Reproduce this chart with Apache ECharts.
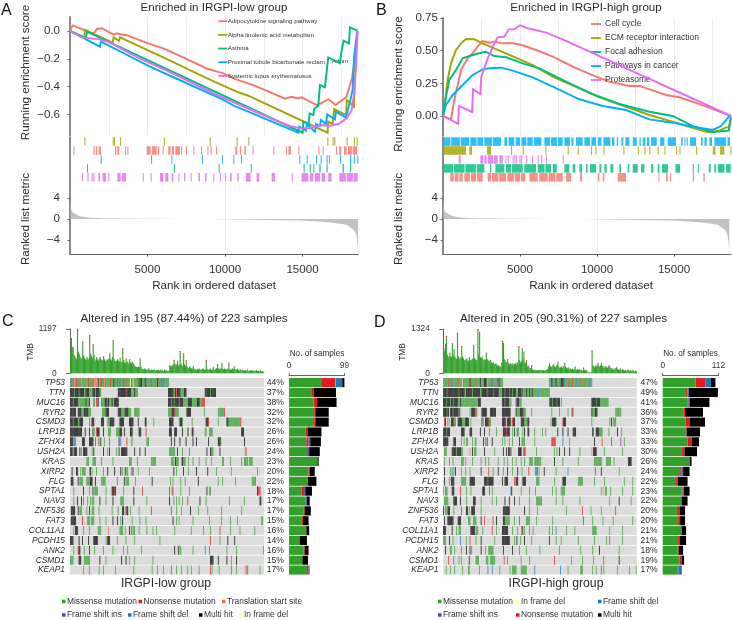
<!DOCTYPE html>
<html><head><meta charset="utf-8">
<style>html,body{margin:0;background:#fff}#c{width:732px;height:620px}#c canvas{filter:blur(0.35px)}</style>
<script src="https://cdn.jsdelivr.net/npm/echarts@6/dist/echarts.min.js"></script>
</head><body><div id="c"></div>
<script>
const FONT='"Liberation Sans",Arial,sans-serif';
const gseaColors=['#F8766D','#A3A500','#00BF7D','#00B0F6','#E76BF3'];
const lowSets=['Adipocytokine signaling pathway','Alpha linolenic acid metabolism','Asthma','Proximal tubule bicarbonate reclam','Systemic lupus erythematosus'];
const highSets=['Cell cycle','ECM receptor interaction','Focal adhesion','Pathways in cancer','Proteasome'];

const lowCurveRed=[[0,0],[172,.04],[1505,-.02],[1610,-.015],[1740,.015],[2040,.02],[2795,-.025],[3050,-.017],[3270,-.024],[3655,-.03],[4945,-.085],[6020,-.125],[7200,-.185],[8815,-.27],[9890,-.305],[10750,-.35],[11825,-.39],[13010,-.445],[13870,-.487],[14300,-.473],[14685,-.485],[14940,-.478],[15910,-.533],[16125,-.525],[16660,-.492],[17135,-.533],[17415,-.509],[17845,-.473],[18060,-.389],[18190,-.341],[18380,-.209],[18555,0]];
const lowCurveOlive=[[0,0],[925,-.046],[970,.007],[2750,-.084],[2815,-.046],[3160,-.07],[3225,-.046],[6020,-.19],[8985,-.348],[10750,-.437],[10790,-.425],[11500,-.466],[11545,-.454],[16620,-.732],[16660,-.653],[16940,-.67],[17050,-.562],[17800,-.605],[17865,-.497],[18320,-.545],[18360,-.4],[18530,0]];
const lowCurveGreen=[[0,0],[1030,-.053],[1095,-.005],[15005,-.732],[15070,-.653],[15395,-.67],[15460,-.593],[15695,-.605],[15760,-.557],[16020,-.54],[16125,-.389],[16450,-.406],[16510,-.341],[16600,-.341],[16660,-.19],[17415,-.233],[17500,-.156],[17590,-.16],[17650,-.07],[17995,-.089],[18060,.026],[18555,.002]];
const lowCurveBlue=[[0,0],[1935,-.113],[2000,-.077],[5160,-.257],[6490,-.324],[6560,-.31],[9805,-.49],[10535,-.535],[14730,-.732],[14790,-.689],[15220,-.718],[15285,-.67],[15800,-.725],[15870,-.67],[16125,-.684],[16190,-.641],[16510,-.67],[16600,-.6],[17090,-.636],[17155,-.581],[17800,-.622],[18100,-.492],[18230,-.425],[18320,-.197],[18400,-.197],[18530,-.005]];
const lowCurveMagenta=[[0,0],[750,-.046],[1935,-.06],[2580,-.084],[3655,-.149],[4730,-.209],[6235,-.286],[7525,-.353],[9245,-.449],[10535,-.511],[11825,-.574],[13115,-.636],[14190,-.684],[14835,-.701],[15480,-.698],[16230,-.677],[16660,-.684],[17310,-.67],[17845,-.629],[18170,-.569],[18340,-.449],[18450,-.257],[18555,0]];

const highCurveRed=[[0,0],[520,-.026],[735,.122],[1170,.352],[1600,.441],[1925,.48],[2250,.531],[2575,.574],[3010,.561],[3335,.569],[3875,.556],[4525,.556],[5175,.541],[6040,.505],[7125,.454],[8420,.378],[9940,.301],[10800,.263],[12100,.23],[12750,.23],[13835,.186],[14485,.161],[15350,.143],[16975,.077],[18700,0]];
const highCurveOlive=[[0,0],[150,.122],[300,.276],[520,.403],[845,.505],[1170,.556],[1495,.589],[2035,.587],[2470,.561],[3335,.518],[4310,.467],[5825,.39],[7125,.301],[8855,.212],[10155,.143],[11885,.071],[13400,.008],[14915,-.043],[16105,-.087],[17190,-.125],[17950,-.112],[18380,-.087],[18555,-.087],[18700,-.005]];
const highCurveGreen=[[0,0],[195,.148],[410,.276],[845,.352],[1275,.441],[1710,.459],[2360,.48],[2750,.492],[3335,.459],[4090,.449],[5175,.403],[6255,.365],[7990,.263],[9720,.168],[11450,.092],[13400,.033],[14915,0],[16215,-.077],[17515,-.122],[18555,-.112],[18700,-.01]];
const highCurveBlue=[[0,0],[195,.084],[630,.161],[1275,.237],[1925,.314],[2575,.357],[3010,.365],[3765,.37],[4525,.347],[5825,.296],[7125,.224],[8855,.128],[10370,.077],[11885,.046],[13400,-.026],[14915,-.051],[16215,-.082],[17515,-.107],[18055,-.077],[18555,-.005],[18700,.008]];
const highCurveMagenta=[[0,0],[975,-.059],[1040,.077],[1885,.031],[1950,.204],[2425,.168],[2490,.301],[2900,.441],[3335,.556],[3550,.602],[3985,.607],[4265,.663],[4635,.663],[5000,.694],[5500,.671],[6690,.638],[7770,.587],[18700,0]];

const lowRugOlive=[925,2750,2840,3225,6060,9010,10750,11500,16600,16940,17050,17845,18320,18490];
const lowRugRed=[215,[1505,1590],[1655,1760],[1850,2000],[2900,2990],[3050,3180],3550,3700,[4945,5200],[5290,5590],[5655,5760],5975,[6340,6490],[6560,6710],[6795,7095],[7160,7200],7480,7955,8450,8860,9070,9420,[10665,10790],10965,[11245,11350],11780,13115,[13930,14000],[14090,14255],14730,16020,16300,17155,[17370,17500],[17675,17845],[17930,18190],[18230,18530]];
const lowRugBlue=[1980,5225,6535,8515,9805,10535,11030,14790,15265,15870,16170,16555,16705,17415,[18060,18145],18320,18530];
const lowRugGreen=[1095,6710,9590,11655,15070,15460,15695,[16080,16170],16555,[17585,17675],18060];
const lowRugMagenta=[775,[1120,1205],1400,1505,[1830,1935],[2105,2320],2470,[3050,3270],[3355,3610],4690,5200,[5805,6020],[6150,6340],[6560,6665],6990,[7355,7440],7785,[8280,8385],[8710,8815],9245,9675,9995,[10320,10430],[10790,10880],[11350,11655],[12040,12210],[13010,13225],14300,[14940,15370],[15480,15695],[15800,16125],[16230,16450],[16660,16880],[17370,17800],[17850,18250],[18290,18555]];

const highRugBlue=[[20,480],[530,1100],[1150,1710],[1775,2180],[2230,2620],[2685,3200],[3250,3765],[3985,4180],[4265,4635],[4720,5000],[5090,5420],[5470,5825],[5890,6385],[6580,6950],[7015,7400],[7450,7770],[7880,8250],[8335,8465],[8640,9070],[9180,9550],[9635,9940],[10045,10285],[10415,10870],[10975,11130],[11280,11365],[11580,11710],[11840,12100],[12320,12580],[12750,12840],[12970,13140],[13230,13400],[13510,13880],[14095,14375],[14590,15130],[15460,15565],[15675,15740],[15825,15890],[16040,16430],[16755,16865],[16975,17125],[17300,17470],[17620,18380],[18470,18640]];
const highRugOlive=[[20,1495],[1710,1885],[2860,3120],4415,5175,6645,8095,8745,9610,9895,10415,11710,12645,13075,13400,13940,14375,15135,15350,16430,[17515,17690],[17990,18270],18660];
const highRugMagenta=[[1020,1150],[2425,2620],[2685,2835],[2920,3250],[3300,3550],[3660,3875],4050,4200,4525,4635,4740,4960,5065,5390,5780,6150,6365,6690,7770];
const highRugGreen=[[20,650],[700,1400],[1450,2150],[2200,2685],3050,[3400,3985],[4090,4415],[4480,5175],[5280,6040],[6150,6600],[6650,7015],[7125,7385],[7880,8205],[8420,8595],[8855,9030],[9290,9395],[9550,9940],[10155,10285],[10480,10630],[10870,11065],[11450,11560],[11995,12100],[12320,12645],[12860,13075],[13510,13660],[13940,14050],[14225,14615],[15090,15395],16215,16540,[17255,17385],[17620,17730],[17840,18270],[18380,18680]];
const highRugRed=[[475,700],[760,1000],[1060,1275],[1385,1750],[1810,2150],[2210,2575],[2900,3120],[3180,3600],[3650,4090],[4180,4600],[4650,5000],[5050,5350],[5610,6150],[6255,6800],[6865,7300],[7350,7770],[7990,8315],[8900,9030],[10045,10155],[10370,10480],[11345,11885],13985,[14485,14590],14745,[16215,16300],[16910,17000]];

const rankedMetric=[[0,4],[40,2.4],[100,1.6],[200,1.2],[320,1],[640,.5],[1290,.25],[2500,.1],[5000,.03],[7500,.005],[9000,-.02],[10000,-.06],[12800,-.18],[14835,-.3],[16000,-.5],[17000,-.7],[17845,-1.1],[18320,-2.1],[18450,-2.8],[18530,-4],[18590,-6.2]];

const genes=['TP53','TTN','MUC16','RYR2','CSMD3','LRP1B','ZFHX4','USH2A','KRAS','XIRP2','FLG','SPTA1','NAV3','ZNF536','FAT3','COL11A1','PCDH15','ANK2','CSMD1','KEAP1'];
const lowPct=['44%','37%','38%','32%','32%','26%','26%','24%','23%','20%','22%','18%','17%','17%','15%','16%','14%','16%','15%','17%'];
const highPct=['47%','49%','41%','36%','37%','33%','33%','30%','26%','24%','22%','23%','22%','20%','20%','21%','21%','18%','19%','17%'];

const lowRows=[
'm0 n1 d2 m3 n4 t5 m6 n7 d8 m9-10 n11 m12 t13 m14-20 n21 m22-25 n26 m27 t28-31 k32 t33 m34 n35-36 m37 d38 t39 n40 m41-45 n46 m47-49 k50 m51-53 n54 m55 d56 i57 m58-60 n61 m62 d63 n64 m65-68 f69 m70 k71 f72 m73-78 k79 m80 k81-82 m83-85 k86 n87 d88 m89-92 n93 m94 d95 m96-99 k100 m101 n102 m103 d104 n105 m106 n107 m108-110 d111 m112-113',
'k0-4 m5 k6-9 m10 k11-15 m16-17 k18-21 m22-25 k26-28 m29 k30-33 m34-35 k55-64 n65 k66-69 m70-73 k74 m75-77 k113-118 m119-120 k121 n122 k123-126 m127-130 k131-133 k155-160 m161 k162-167',
'k0-3 m4 k5-8 m9-17 k18 m19-21 k22 i27 m28 n30 m31 k32 n36 m37-39 k40-42 m43 k44 m45-47 k48 m49-50 k51-55 k113-115 m116 k117-119 m120 k121-124 m125 k126-129 m130-135 k136-139 m140-145 k146-148 m149-151 n152-154',
'k0-6 k9-12 m13-15 k16-20 m21-23 m37-40 k41-44 k55-58 m59-62 k63-66 m67-69 m74-79 m113-116 k117-119 n120 m121-124 k134-138 m154 m170-176 n177',
'k0-3 m4 k5-8 m9-10 k11-14 m22 t24 k25-27 k36-38 m43-45 k46-50 k57-61 k68-72 k78 k86-87 m96 k114-118 k126-128 m129 m140 k156-158 n159 m170 k180-181 m182-195 n196',
'k0-13 k17 k22 k26 m28 n30 k31-33 k38 m44-46 m53-56 k57-59 k62 k69-71 k79-81 n87 k114-116 k120-122 k129 n135 m136 k140-141 m155-156 m160-163 k197-199',
'k0-3 d5 m6 k14-16 k22-26 n29 m32 t33 k35 m39 d45 k56 d58 n65 t70 m71 m88-90 k116 k120 k126 k133 k141 k145 k159 k170-172 m173 k200',
'k0-2 m3-4 k5-7 k11 m13 k15-19 m25 k27 k38 m43 k45 m53 k56 k59-65 k74 k80 k86 m114-120 k123 m129 d137 k157 k161 m162-164 k172 t201 n202',
'm19-21 m26-29 m36 m49 m68-70 m77 m93-98 m116-119 k121 m122-124 m128 k129 m130-132 m136 m141 m148 m156 m162 m175-176 m184 m197 m200-204 m206-209',
'k2 k7-8 m12 m14-17 m22 k23 m25 m30 m38 k43 k51 k58 m60 k63 m65-66 m70 k72 m78 m91 k119 m122 k130 m136 k145 k158 m168 m185 m215',
'k1-3 k9 m11-14 m19-22 k23-25 k29 m36-40 d54 k62 m64-67 m75 k94 m115 m118 m127 m132 k147 m170 m175 m190 m209-213',
'm4 k15 m22 k26 m28-31 m41 k48-50 n51 k52 m61 k73 n83 n114 n117 m118 m127 m137 k157 m160-161 k215 n216-218',
'm4 k8 k13 d15 m20 m23 m25-27 k34 m41 k49 m58-61 k73 m88 k114 m119 m122 m125 m129 n135 k149 m156 d183 m200 k218-219',
'k1-5 k9 m11-13 m19 k22 m25-27 m33 m48 m55 k60-61 n63 k65-66 m69 m79 n93 i116 m122 m128 k138 m147 m158 m174 m197',
'k1-6 n14 m20-22 m24-27 m34 m41 k49 k54 m58 k60 m71 m80 m87 k118 m122 m125 m141 m160 m174 m184 m192 m220-221',
'm4 k6-8 m15 m22 m32-35 t44 m57-60 m63 k68 n70 m72-74 m79 m88 m95 m99 m120 m139 m153 m161 n172 m184 m195 m212',
'k0-3 k10 k14 k21 k27-31 m41 k43-45 m54 m64 m74 m103 n161 m172 k181 k189',
'm4 n9 k10-11 m16 k22 m28 m38 m49 m61 m66 m82 k120 k124 m126-127 m141 d155 d160 m180 m191 m222',
'm0-3 k10-12 m16-22 k34 m41 k59 k64 m68 m74 m95 k161-164 k170 k180 m185 k191',
'm15 m22 m33 m38 m52 m73 m94 m100 m107 n116 m122 m128 m135 m139 m148 n161 m163 m171 d185 m191 t201 n203 m204 m218'];

const highRows=[
'm0-5 n6 m7-8 d9-10 m11-16 n17 m18-21 n23 m24-30 k31 n32 m33-37 n38 m39-42 k43 m44-46 d47 k48-50 t51 m52-55 d56 i57 d58 m59-62 i63-64 k65 m66-69 m124-126 k127 d128 m129-130 n131 k132 m133-135 d136 m137 k138-140 n141 d142 m143-146 n147 m148-150 n151 m152-155 d156 m157-159 n160 m161-165 n166 m167-170 d171-172 m173-174',
'k0-3 m4 k5-17 m18 k19-24 m25-26 k27-33 m34 k35-42 m43-44 k45-50 m51 k52-58 m59 k60-64 d65 m66-68 k69-71 m72 k73-76 d77 k78-80 m81 k82-84 m85-87 k88-90 d91 k92 m93-96 k97 d98 m99-100 k101 m102-103 k104 m105-110 d111 m112-124',
'k0-2 m3 k4-7 m8 k9-11 m12 k13-16 m17-19 k20 m21-40 k41-43 k69-71 m72 k73-76 m77-79 i85 k86-88 m89-91 m124 k125-127 m128 k129-132 m133 k134-136 d138 k174-178 m179 k180-183 m184-193',
'k0-3 m4 k5-6 k8-10 m11 k12-17 k19 m31 k33-36 n37-38 m39 k45-50 k55-61 k69-78 k85 m86-89 k90-93 m94-96 m103 m127 m136 m146 t150 n151 m152 k174 m175-177 k178-180 m202-208',
'n1 k2 m5 t7 k9-11 n12 m13-14 k17-21 m22-25 k26-29 m32 k45 m47 k49-52 n53 m54-55 k69-72 n73 k75-78 m79 n81 k82-83 k91-94 m95-98 k99-100 m126 k128-131 m132 n140 k141-143 m174 m195 k197 m199-202',
'k0-2 m3 k4-7 k21-24 k31-33 k43 k48 m54 m62 k70-73 n74 k75-77 m81 k83 m86-88 m93 k95 k99-100 m107 m116 m120 k134 k140 k146 k152-155 k175 n176 k179-182 m183-186 m194 k204 m209',
'k0-5 k12-14 m21 m24 m27-28 m34 m37-38 k47 m49 k51 k57 m69 m72 m77 m81 k89 m92-95 m107 n127-131 d140 m148 k177 n186 n197 i208 m212',
'm1-3 k10-14 m15 k16-20 m21-22 t31 k34 m36-38 k48 m60 k70 k74 k76-77 k79 k88-91 n94-95 m96 m109 m130 m133 k136 k142 k148 m160 t174 k176-179 m189 m210',
'm1 m7 m11 m21-23 m26 m34 m44 m49 m53 m64 m71 m75 m81 m85 m91 m95 m101-104 m107-114 k130 m140 m158 m177-185 m191-196 m200 k217-220',
'k1 m8 d10 m12 k14 m21 m26 m31 k44 n53 m58 k64 m70 k75 m81 k87 m92 n100 d108-110 m112 k118 m132 d146 n178 k185 m206',
'k1 m7 k9-12 m21-26 k31-36 k48-51 m52 k53-58 k69 k72-75 n83 k85-87 k93-96 m109-112 m130 k140-143 m158-163 m177 m189 m212 m222',
'm0 d2 m3-4 k10-12 n20 m27 m32 k46-48 n54 m57 d79 k80 m91 m101 m108 m128 m132 m138-142 m185 t188 m190-191 m196 m210 m222',
'm1-5 k12-15 k20 m27 k35-37 m44 m57 m62 k72 k77 k83 m89 m101 m109-115 m132 m140 m160 m195 k206 m220',
'k0 m2-3 k5-7 m12 n21 k27-28 m30 k33-36 m44 k70-77 k95 m101 m110 m144 n163 m173 m185 n202',
'k1 k5-11 k17-20 m29-31 m35-38 k44 n48 n58 k62 k70-72 m74-77 m83 n89 m97-101 m109 m128 n164 m175 m187 m199 m222',
'k0-2 k10 m15 m18-20 k32-36 m38-40 m46 n57 m62 k69-75 m81 m87 k92 n93 m95 m101 m105 d124 m128 d132 m144 m154 m175-179 m195 m210',
'm0-2 k7 m11 d20 m27 n31 m38 k44 m60 k69-77 m83 k86 m90 k95 m103 k124 m132 m138 m158 m177 m191 n195 m210',
'k2 m8-9 m13 m21 k27 k31 m33 k44 m49 m53-58 k70 k81 m89 m97 m113 m136 m161 m175 k183 m206',
'n6 d12 m18 m21 k30 m38-41 m50-52 m55-60 n71 m75 m91 m101 n130 m150 m163 m176 n188 k206',
'm3 m8 m13 m22 m29-30 m42 d52 d57 m66 m78 m81-85 m91-97 d107 d137 m146 m161-163 m175 m179 i185 m188 m204 m218 m226'];

const mutTypes={m:['Missense mutation','#33A02C'],n:['Nonsense mutation','#E31A1C'],t:['Translation start site','#F4734A'],i:['Frame shift ins','#6A3D9A'],d:['Frame shift del','#1F78B4'],k:['Multi hit','#000000'],f:['In frame del','#FFFF99']};

// side bars: [missense, nonsense, start site, frame ins, frame del, multi hit]
const lowSide=[[59,24,1,0,11,5],[41,3,0,0,0,40],[44,6,0,0,0,35],[45,2,0,0,0,24],[45,2,0,0,0,24],[30,3,0,0,0,25],[31,4,0,0,3,19],[34,0,0,2,0,19],[51,0,0,0,0,2],[35,2,0,0,0,9],[34,0,0,0,0,15],[23,4,0,2,0,12],[30,0,0,0,2,5],[26,2,0,0,0,11],[23,2,0,0,0,10],[29,2,0,0,0,5],[19,0,0,0,0,13],[26,2,0,0,0,7],[24,0,0,0,0,10],[32,3,0,0,2,0]];
const highSide=[[66,20,0,0,11,9],[47,3,0,0,3,58],[50,2,0,0,2,40],[42,3,0,0,0,36],[46,9,0,0,0,30],[46,2,0,0,0,27],[50,8,0,0,0,15],[39,5,0,0,0,25],[55,0,0,0,0,3],[35,3,0,0,3,13],[27,3,0,0,0,20],[38,2,0,0,3,11],[38,0,0,0,0,12],[29,5,0,0,0,11],[31,4,0,0,0,10],[37,1,0,0,0,9],[31,3,0,0,0,13],[30,2,0,0,0,9],[34,4,0,0,0,5],[30,0,0,2,5,1]];

const lowTmb=[620,945,700,720,500,460,420,380,1197,580,520,440,420,380,855,480,420,380,360,440,400,380,1035,520,460,420,790,500,380,340,440,380,340,400,440,380,360,340,460,380,340,320,380,360,400,540,380,340,440,900,400,340,320,340,380,340,320,420,320,300,675,360,300,280,400,320,300,260,380,300,260,320,280,240,200,180,170,160,180,170,405,180,120,110,100,130,110,90,100,110,135,90,80,100,90,80,110,80,70,90,80,100,70,90,110,70,80,60,100,70,80,60,70,60,225,200,180,210,240,360,260,220,240,340,200,240,600,260,220,200,540,240,200,360,180,160,140,200,150,130,120,200,130,100,110,90,120,100,130,90,110,100,120,130,90,100,360,120,100,90,110,130,90,100,180,90,110,120,140,250,130,110,120,150,270,120,100,130,110,90,130,110,290,120,90,100,130,110,200,100,110,80,120,90,70,110,90,60,100,80,70,90,60,110,70,50,80,60,90,70,60,80,50,70,90,60,70,50,80,60,40,60,30];
const lowTmbTips=[[1,55],[3,30],[8,50],[14,45],[22,45],[26,35],[34,20],[38,25],[45,30],[49,40],[57,20],[60,35],[64,25],[68,20],[71,25],[80,25],[114,15],[119,25],[123,20],[126,30],[130,30],[133,20],[156,25],[169,15],[174,20],[182,20],[188,15]];
const highTmb=[746,660,880,1114,560,500,460,620,520,480,895,540,720,500,460,420,1214,520,460,420,480,816,500,440,400,380,420,440,380,360,480,400,380,420,440,846,460,420,380,400,1324,560,1244,480,440,500,420,380,420,400,617,420,380,360,380,400,320,300,340,280,280,300,260,220,240,200,220,180,320,975,900,420,380,320,340,418,300,260,300,280,260,300,240,280,300,260,340,300,816,400,320,360,746,420,650,340,300,398,200,240,180,140,160,249,120,90,100,110,90,80,100,90,80,110,90,80,100,90,70,100,90,110,130,200,298,220,180,200,240,270,200,180,220,260,348,200,160,180,200,160,220,180,318,200,160,140,180,120,150,130,110,140,100,120,200,110,90,130,100,120,80,110,90,70,170,100,90,110,70,30,20,30,20,40,696,240,200,180,220,200,260,318,220,200,240,298,220,180,200,160,220,180,160,200,249,180,140,160,120,100,140,120,160,199,130,110,100,150,90,100,130,90,80,100,70,90,110,80,70,90,60,80,100,70,50,80,60];
const highTmbTips=[[0,40],[3,45],[10,30],[16,50],[21,40],[30,25],[35,40],[40,50],[42,50],[45,30],[50,35],[69,45],[70,35],[75,25],[88,40],[92,35],[97,25],[103,20],[124,20],[134,25],[142,25],[174,15],[181,25],[185,20],[194,15]];

const letterMarks=[['A',1,11],['B',376,11],['C',2,322],['D',374,323]];

const grids=[],xAxes=[],yAxes=[],series=[],legends=[],graphics=[];
const tickCol='#333',axisCol='#8a8a8a',gridCol='#ececec';
function gridAdd(g,x,y){grids.push(g);x.gridIndex=grids.length-1;y.gridIndex=grids.length-1;xAxes.push(x);yAxes.push(y);return grids.length-1;}
function txt(text,x,y,size,opt){opt=opt||{};graphics.push({type:'text',x,y,rotation:opt.rot||0,silent:true,style:{text,fontFamily:FONT,fontSize:size,fill:opt.fill||'#2b2b2b',align:opt.align||'center',verticalAlign:'middle'}});}

function rugSeries(name,color,rows,row,idx){
  const data=rows.map(r=>Array.isArray(r)?[r[0],r[1],row]:[r,r,row]);
  series.push({name,type:'custom',xAxisIndex:idx,yAxisIndex:idx,silent:true,animation:false,encode:{x:[0,1],y:2},data,
    renderItem(p,api){const a=api.coord([api.value(0),api.value(2)]),b=api.coord([api.value(1),api.value(2)]),h=api.size([0,1])[1];
      return {type:'rect',shape:{x:a[0],y:a[1]-h/2,width:Math.max(b[0]-a[0],1.1),height:h-.4},style:{fill:color,opacity:.82}};}});
}
function gseaPanel(c){
  const hx={min:0,max:c.maxRank,interval:2500,type:'value'};
  const hidden={axisLabel:{show:false},axisTick:{show:false},axisLine:{show:false}};
  const leftLine={show:true,onZero:false,lineStyle:{color:axisCol,width:2}};
  const top=gridAdd({left:c.left,width:c.width,top:c.top,height:c.height},
    Object.assign({},hx,hidden,{splitLine:{show:true,showMinLine:false,showMaxLine:false,lineStyle:{color:gridCol,width:1}}}),
    {type:'value',min:c.yMin,max:c.yMax,axisLine:leftLine,splitLine:{show:false},
     axisTick:{length:2.5,customValues:c.yTicks,lineStyle:{color:'#666'}},axisLabel:{customValues:c.yTicks,margin:c.labelMargin,fontFamily:FONT,fontSize:11.6,color:tickCol,formatter:v=>v.toFixed(c.dp).replace('-','\u2212')}});
  c.curves.forEach((d,i)=>series.push({name:c.sets[i],type:'line',xAxisIndex:top,yAxisIndex:top,data:d,showSymbol:false,symbol:'none',animation:false,silent:true,z:3+i,clip:false,lineStyle:{color:gseaColors[i],width:1.95,join:'miter'},itemStyle:{color:gseaColors[i]}}));
  const rug=gridAdd({left:c.left,width:c.width,top:137.3,height:44.7},Object.assign({},hx,hidden,{splitLine:{show:false}}),
    {type:'category',inverse:true,data:['r1','r2','r3','r4','r5'],axisLine:{show:true,lineStyle:{color:axisCol,width:2}},axisTick:{show:false},axisLabel:{show:false},splitLine:{show:false}});
  c.rugs.forEach((r,row)=>rugSeries(c.sets[r[0]],gseaColors[r[0]],r[1],row,rug));
  const rank=gridAdd({left:c.left,width:c.width,top:182,height:72},
    Object.assign({},hx,{axisLine:{show:true,onZero:false,lineStyle:{color:'#666',width:1.2}},axisTick:{customValues:[5000,10000,15000],length:2.5,lineStyle:{color:'#555'}},axisLabel:{customValues:[5000,10000,15000],margin:9.5,fontFamily:FONT,fontSize:11.6,color:tickCol,formatter:v=>String(v)},splitLine:{show:true,showMinLine:false,showMaxLine:false,lineStyle:{color:gridCol,width:1}}}),
    {type:'value',min:-6.67,max:7.05,axisLine:leftLine,splitLine:{show:false},axisTick:{length:2.5,customValues:[-4,0,4],lineStyle:{color:'#666'}},axisLabel:{customValues:[-4,0,4],margin:c.labelMargin,fontFamily:FONT,fontSize:11.6,color:tickCol,formatter:v=>String(v).replace('-','\u2212')}});
  series.push({type:'line',xAxisIndex:rank,yAxisIndex:rank,data:rankedMetric,showSymbol:false,symbol:'none',animation:false,silent:true,lineStyle:{width:0},areaStyle:{color:'#c2c2c2',opacity:1,origin:0}});
  c.sets.forEach((name,i)=>legends.push({padding:0,left:c.legLeft,top:c.legTop+c.legStep*i,selectedMode:false,itemWidth:c.legKey,itemHeight:1.8,textStyle:{fontFamily:FONT,color:'#333',fontSize:c.legFont,padding:c.legPad},data:[{name,icon:'rect',itemStyle:{color:gseaColors[i]}}]}));
}
gseaPanel({left:70,width:288.3,top:17.11,height:118.07,maxRank:18600,yMin:-.75,yMax:.1,yTicks:[-.6,-.4,-.2,0],dp:1,sets:lowSets,labelMargin:10,
  curves:[lowCurveRed,lowCurveOlive,lowCurveGreen,lowCurveBlue,lowCurveMagenta],
  rugs:[[1,lowRugOlive],[0,lowRugRed],[3,lowRugBlue],[2,lowRugGreen],[4,lowRugMagenta]],legFont:6.2,legPad:[0,0,0,-4.5],legLeft:218.3,legTop:18.2,legStep:13.67,legKey:9});
gseaPanel({left:443,width:288,top:18,height:117.6,maxRank:18700,yMin:-.15,yMax:.75,yTicks:[0,.25,.5,.75],dp:2,sets:highSets,labelMargin:5,
  curves:[highCurveRed,highCurveOlive,highCurveGreen,highCurveBlue,highCurveMagenta],
  rugs:[[3,highRugBlue],[1,highRugOlive],[4,highRugMagenta],[2,highRugGreen],[0,highRugRed]],legFont:8.5,legPad:[0,0,0,-1],legLeft:591,legTop:19.5,legStep:14,legKey:10});

function oncoPanel(c){
  // TMB
  const tipMap={};c.tips.forEach(t=>tipMap[t[0]]=t[1]);
  const t=gridAdd({left:c.left,width:c.width,top:329,height:44.3},
    {type:'value',min:0,max:c.samples,show:false,splitLine:{show:false}},
    {type:'value',min:0,max:c.tmbMax,interval:c.tmbMax,offset:3.5,axisLine:{show:true,lineStyle:{color:'#666',width:1}},axisTick:{show:true,length:4,lineStyle:{color:'#666'}},splitLine:{show:false},axisLabel:{margin:10,fontFamily:FONT,fontSize:8.3,color:tickCol,formatter:v=>String(v)}});
  const bar=fill=>function(p,api){const a=api.coord([api.value(0),api.value(1)]),b=api.coord([api.value(0)+1,api.value(2)]);
    return {type:'rect',shape:{x:a[0],y:b[1],width:b[0]-a[0]+.25,height:a[1]-b[1]},style:{fill}};};
  series.push({type:'custom',name:'tmbMis',xAxisIndex:t,yAxisIndex:t,silent:true,animation:false,encode:{x:0,y:2},data:c.tmb.map((v,i)=>[i,0,v-(tipMap[i]||0)]),renderItem:bar('#33A02C')});
  series.push({type:'custom',name:'tmbNon',xAxisIndex:t,yAxisIndex:t,silent:true,animation:false,encode:{x:0,y:2},data:c.tips.map(p=>[p[0],c.tmb[p[0]]-p[1],c.tmb[p[0]]]),renderItem:bar('#E31A1C')});
  // oncoplot
  const o=gridAdd({left:c.left,width:c.width,top:377.7,height:197.3},
    {type:'value',min:0,max:c.samples,show:false,splitLine:{show:false}},
    {type:'category',inverse:true,data:genes,axisLine:{show:false},axisTick:{show:false},splitLine:{show:false},axisLabel:{margin:5,interval:0,fontFamily:FONT,fontStyle:'italic',fontSize:8.4,color:'#2b2b2b'}});
  const rect=(fill,frac)=>function(p,api){const a=api.coord([api.value(0),api.value(2)]),b=api.coord([api.value(1),api.value(2)]),h=api.size([0,1])[1];
    return {type:'rect',shape:{x:a[0],y:a[1]-h/2+.4,width:(b[0]-a[0])*frac,height:h-.9},style:{fill}};};
  series.push({type:'custom',name:'bg',xAxisIndex:o,yAxisIndex:o,silent:true,animation:false,encode:{x:[0,1],y:2},z:1,data:genes.map((_,i)=>[0,c.samples,i]),renderItem:rect('#dcdcdc',1)});
  const cells={};
  c.rows.forEach((s,g)=>s.split(' ').forEach(tok=>{const ty=tok[0],p=tok.slice(1).split('-');const a=+p[0],b=+(p[1]||p[0]);for(let i=a;i<=b;i++)(cells[ty]=cells[ty]||[]).push([i,i+1,g]);}));
  Object.keys(cells).forEach(ty=>series.push({type:'custom',name:mutTypes[ty][0],xAxisIndex:o,yAxisIndex:o,silent:true,animation:false,encode:{x:[0,1],y:2},z:2,itemStyle:{color:mutTypes[ty][1]},data:cells[ty],renderItem:rect(mutTypes[ty][1],.8)}));
  // side
  const s=gridAdd({left:c.sideLeft,width:c.sideWidth,top:377.7,height:197.3},
    {type:'value',position:'top',min:0,max:c.sideMax,interval:c.sideMax,offset:2,axisLine:{show:true,lineStyle:{color:'#666',width:1}},axisTick:{show:true,length:2.5,lineStyle:{color:'#666'}},splitLine:{show:false},axisLabel:{margin:5.5,fontFamily:FONT,fontSize:8.3,color:tickCol}},
    {type:'category',inverse:true,data:genes,axisLine:{show:false},axisTick:{show:false},axisLabel:{margin:5,interval:0,fontFamily:FONT,fontSize:8.6,color:'#2b2b2b',formatter:(v,i)=>c.pct[i]}});
  ['m','n','t','i','d','k'].forEach((ty,j)=>series.push({type:'bar',name:mutTypes[ty][0],stack:'s'+s,xAxisIndex:s,yAxisIndex:s,barCategoryGap:'8%',silent:true,animation:false,itemStyle:{color:mutTypes[ty][1]},data:c.side.map(r=>r[j])}));
  // legend
  c.legend.forEach(l=>legends.push({padding:0,left:l[1],top:l[2],selectedMode:false,itemWidth:3.5,itemHeight:3.5,textStyle:{fontFamily:FONT,fontSize:8.4,color:'#333',padding:[0,0,0,-3.5]},data:[{name:mutTypes[l[0]][0],icon:'rect',itemStyle:{color:mutTypes[l[0]][1]}}]}));
}
oncoPanel({left:70,width:194,samples:223,tmb:lowTmb,tips:lowTmbTips,tmbMax:1197,rows:lowRows,side:lowSide,pct:lowPct,sideLeft:289,sideWidth:55.4,sideMax:99,
  legend:[['m',62,597.5],['n',138.5,597.5],['t',222,597.5],['i',62,611],['d',128,611],['k',199,611],['f',239,611]]});
oncoPanel({left:443.3,width:193.4,samples:227,tmb:highTmb,tips:highTmbTips,tmbMax:1324,rows:highRows,side:highSide,pct:highPct,sideLeft:662.7,sideWidth:55.7,sideMax:112,
  legend:[['m',438,597.5],['f',516,597.5],['d',598,597.5],['i',438,611],['n',516,611],['k',598,611]]});

letterMarks.forEach(l=>txt(l[0],l[1],l[2],16,{align:'left',fill:'#111'}));
txt('Enriched in IRGPI-low group',214,8,11.6);
txt('Enriched in IRGPI-high group',586,8,11.6);
txt('Running enrichment score',26,72.5,11.6,{rot:Math.PI/2});
txt('Running enrichment score',399,84,11.6,{rot:Math.PI/2});
txt('Ranked list metric',26,219,11.6,{rot:Math.PI/2});
txt('Ranked list metric',399,219,11.6,{rot:Math.PI/2});
txt('Rank in ordered dataset',214,286,11.6);
txt('Rank in ordered dataset',591,286,11.6);
txt('Adam',340,61,6.2);
txt('Altered in 195 (87.44%) of 223 samples',184,319,11.8);
txt('Altered in 205 (90.31%) of 227 samples',563.5,319,11.8);
txt('IRGPI-low group',166,584,12.2);
txt('IRGPI-high group',556,584,12.2);
txt('TMB',31,352,8.4,{rot:Math.PI/2});
txt('TMB',403,352,8.4,{rot:Math.PI/2});
txt('No. of samples',317,354,8.2);
txt('No. of samples',690.5,354,8.2);

const chart=echarts.init(document.getElementById('c'),null,{renderer:'canvas'});
chart.setOption({animation:false,backgroundColor:'#fff',textStyle:{fontFamily:FONT},grid:grids,xAxis:xAxes,yAxis:yAxes,series,legend:legends,graphic:graphics});
</script></body></html>
